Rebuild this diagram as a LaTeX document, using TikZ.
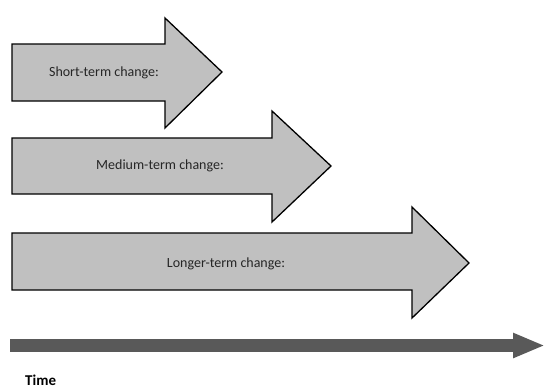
\documentclass[tikz,border=0pt]{standalone}
\usepackage{fontspec}
\setmainfont{Carlito}
\usetikzlibrary{positioning,arrows.meta}
\definecolor{blk}{RGB}{192,192,192}
\definecolor{tml}{RGB}{89,89,89}

\begin{document}
\begin{tikzpicture}[x=1bp,y=-1bp,font=\fontsize{14bp}{16bp}\selectfont,
  blk/.style={draw=black,line width=1.3bp,fill=blk,line join=miter},
  lbl/.style={text=black!85,inner sep=0pt},
  tml/.style={draw=tml,line width=13bp,-{Triangle[length=32bp,width=23bp]}}]
  \useasboundingbox (0,0) rectangle (544,388);
  % the three block arrows, shortest on top
  \draw[blk] (12,44)--(165,44)--(165,18)--(222,72)--(165,128)--(165,101)--(12,101)--cycle;
  \draw[blk] (12,138)--(272,138)--(272,111)--(331,166)--(272,222)--(272,194)--(12,194)--cycle;
  \draw[blk] (12,233)--(412,233)--(412,207)--(469,263)--(412,318)--(412,290)--(12,290)--cycle;
  \node[lbl] (st) at (104,73) {Short-term change:};
  \node[lbl] (mt) at (160,166) {Medium-term change:};
  \node[lbl] (lt) at (226,264) {Longer-term change:};
  % time axis
  \coordinate (t0) at (10,345.5);
  \coordinate (t1) at (545,345.5);
  \draw[tml] (t0) -- (t1);
  \node[font=\fontsize{15bp}{17bp}\bfseries,anchor=base west,inner sep=0pt] (time) at (25,385) {Time};
\end{tikzpicture}
\end{document}
